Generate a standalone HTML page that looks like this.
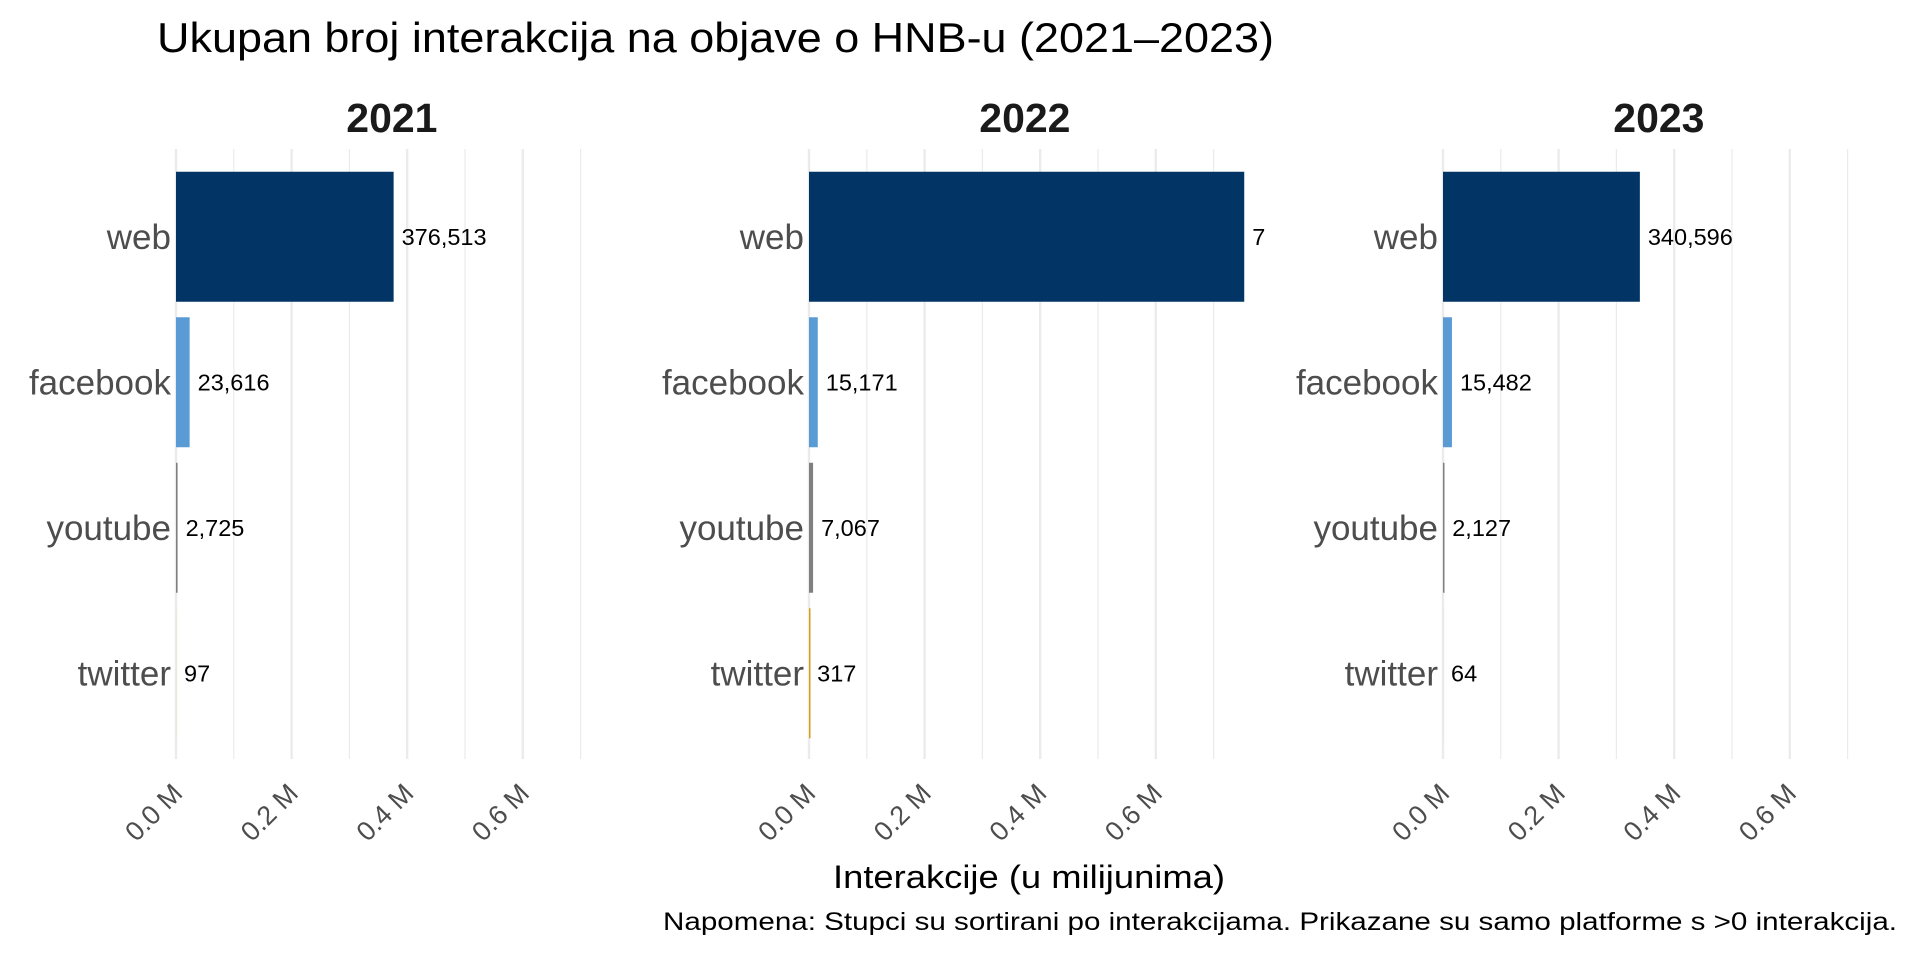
<!DOCTYPE html>
<html>
<head>
<meta charset="utf-8">
<style>
  html,body{margin:0;padding:0;background:#fff;}
  svg{display:block;font-family:"Liberation Sans",Arial,sans-serif;}
</style>
</head>
<body>
<svg id="chart" width="1920" height="960" viewBox="0 0 1920 960" xmlns="http://www.w3.org/2000/svg">
  <text x="157" y="52" font-size="42" fill="#000" textLength="1117" lengthAdjust="spacingAndGlyphs">Ukupan broj interakcija na objave o HNB-u (2021–2023)</text>
  <text x="833" y="888" font-size="32" fill="#000" textLength="392" lengthAdjust="spacingAndGlyphs">Interakcije (u milijunima)</text>
  <text x="663" y="930" font-size="25" fill="#000" textLength="1234" lengthAdjust="spacingAndGlyphs">Napomena: Stupci su sortirani po interakcijama. Prikazane su samo platforme s &gt;0 interakcija.</text>
  <g id="panels"></g>
</svg>
<script>
const years = ["2021", "2022", "2023"];
const categories = ["web", "facebook", "youtube", "twitter"];
const values2021 = [376513, 23616, 2725, 97];
const values2022 = [753000, 15171, 7067, 317];
const values2023 = [340596, 15482, 2127, 64];
const tickValues = [0, 0.2, 0.4, 0.6];
const tickLabels = ["0.0 M", "0.2 M", "0.4 M", "0.6 M"];
const minorValues = [0.1, 0.3, 0.5, 0.7];
const valueLabels2021 = ["376,513", "23,616", "2,725", "97"];
const valueLabels2022 = ["7", "15,171", "7,067", "317"];
const valueLabels2023 = ["340,596", "15,482", "2,127", "64"];

const allValues = [values2021, values2022, values2023];
const allLabels = [valueLabels2021, valueLabels2022, valueLabels2023];
const colors = {web:"#023466", facebook:"#5b9bd5", youtube:"#808080", twitter:"#d4a017"};

const NS = "http://www.w3.org/2000/svg";
const panelX0 = [176, 809, 1443];
const pxPerM = 578;
const plotTop = 149, plotBottom = 759;
const bandTop = 164, band = 145.5, barH = 130;

function xScale(p, m){ return panelX0[p] + m * pxPerM; }
function yCenter(i){ return bandTop + band * (i + 0.5); }

function mk(tag, attrs){
  const el = document.createElementNS(NS, tag);
  for (const k in attrs) el.setAttribute(k, attrs[k]);
  return el;
}

const root = document.getElementById("panels");
const svg = document.getElementById("chart");
const defs = mk("defs", {});
svg.insertBefore(defs, svg.firstChild);

years.forEach((yr, p) => {
  const g = mk("g", {});
  
  
  root.appendChild(g);

  const left = xScale(p, -0.038), right = xScale(p, 0.795);
  const cp = mk("clipPath", {id: "clip" + p});
  cp.appendChild(mk("rect", {x: left, y: plotTop - 5, width: right - left, height: plotBottom - plotTop + 10}));
  defs.appendChild(cp);

  const st = mk("text", {x: (xScale(p, -0.038) + xScale(p, 0.785)) / 2, y: 132, "font-size": 41, "font-weight": "bold", fill: "#1a1a1a", "text-anchor": "middle"});
  st.textContent = yr;
  
  
  g.appendChild(st);

  minorValues.forEach(v => {
    const l = mk("line", {x1: xScale(p, v), x2: xScale(p, v), y1: plotTop, y2: plotBottom, stroke: "#ebebeb", "stroke-width": 1.2});
    
    
    g.appendChild(l);
  });
  tickValues.forEach((v, i) => {
    const l = mk("line", {x1: xScale(p, v), x2: xScale(p, v), y1: plotTop, y2: plotBottom, stroke: "#ebebeb", "stroke-width": 2.4});
    
    
    g.appendChild(l);
    const ax = xScale(p, v) + 8, ay = 795;
    const t = mk("text", {x: ax, y: ay, "font-size": 27, fill: "#4d4d4d", "text-anchor": "end", transform: "rotate(-45 " + ax + " " + ay + ")"});
    t.textContent = tickLabels[i];
    
    
    g.appendChild(t);
  });

  const bars = mk("g", {"clip-path": "url(#clip" + p + ")"});
  
  
  g.appendChild(bars);

  categories.forEach((c, i) => {
    const cy = yCenter(i);
    const lab = mk("text", {x: panelX0[p] - 5, y: cy + 12, "font-size": 35, fill: "#4d4d4d", "text-anchor": "end"});
    lab.textContent = c;
    
    
    g.appendChild(lab);

    const v = allValues[p][i] / 1e6;
    let w = Math.max(xScale(p, v) - xScale(p, 0), 0);
    if (v >= 0.0002 && w < 1.5) w = 1.5;
    const r = mk("rect", {x: xScale(p, 0), y: cy - barH / 2, width: w, height: barH, fill: colors[c]});
    
    
    bars.appendChild(r);

    const vt = mk("text", {x: xScale(p, v) + 8, y: cy + 8, "font-size": 23.5, fill: "#000"});
    vt.textContent = allLabels[p][i];
    
    
    bars.appendChild(vt);
  });
});
</script>
</body>
</html>
